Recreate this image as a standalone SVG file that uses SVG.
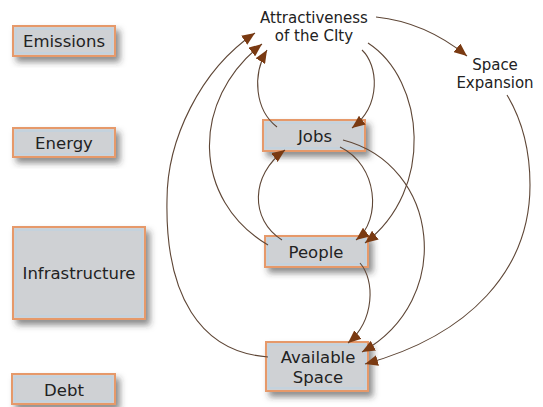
<svg xmlns="http://www.w3.org/2000/svg" width="543" height="407" viewBox="0 0 543 407">
<defs>
<style>
.box{fill:#cfd1d4;stroke:#e6996a;stroke-width:2;filter:url(#sh)}
.inner{fill:none;stroke:#b9d3e6;stroke-width:1}
.bl{font-family:"DejaVu Sans","Liberation Sans",sans-serif;font-size:16.5px;fill:#222;text-anchor:middle}
.fl{font-family:"DejaVu Sans","Liberation Sans",sans-serif;font-size:15px;fill:#222;text-anchor:middle}
.c{fill:none;stroke:#5e4636;stroke-width:1.1;marker-end:url(#ah)}
</style>
<filter id="sh" x="-20%" y="-20%" width="150%" height="160%">
<feDropShadow dx="4" dy="5" stdDeviation="3" flood-color="#333" flood-opacity="0.55"/>
</filter>
<marker id="ah" markerUnits="userSpaceOnUse" markerWidth="14" markerHeight="11" refX="13" refY="5.5" orient="auto">
<path d="M0,0 L13,5.5 L0,11 z" fill="#7a3a12"/>
</marker>
</defs>
<rect width="543" height="407" fill="#ffffff"/>

<g id="emissions"><rect class="box" x="13" y="26" width="102" height="30"/><rect class="inner" x="16" y="29" width="96" height="24"/><text class="bl" x="64" y="47">Emissions</text></g>
<g id="energy"><rect class="box" x="13" y="128" width="102" height="29"/><rect class="inner" x="16" y="131" width="96" height="23"/><text class="bl" x="64" y="149">Energy</text></g>
<g id="infrastructure"><rect class="box" x="13" y="227" width="132" height="92"/><rect class="inner" x="16" y="230" width="126" height="86"/><text class="bl" x="79" y="279">Infrastructure</text></g>
<g id="debt"><rect class="box" x="12" y="374" width="103" height="30"/><rect class="inner" x="15" y="377" width="97" height="24"/><text class="bl" x="64" y="396">Debt</text></g>

<g id="attractiveness"><text class="fl" x="314" y="23">Attractiveness<tspan x="314" dy="18">of the CIty</tspan></text></g>
<g id="space-expansion"><text class="fl" x="495" y="70">Space<tspan x="495" dy="18">Expansion</tspan></text></g>
<g id="jobs"><rect class="box" x="263" y="120" width="102" height="31"/><rect class="inner" x="266" y="123" width="96" height="25"/><text class="bl" x="315" y="142">Jobs</text></g>
<g id="people"><rect class="box" x="265" y="236" width="103" height="31"/><rect class="inner" x="268" y="239" width="97" height="25"/><text class="bl" x="316" y="258">People</text></g>
<g id="available-space"><rect class="box" x="266" y="342" width="102" height="49"/><rect class="inner" x="269" y="345" width="96" height="43"/><text class="bl" x="318" y="363">Available<tspan x="318" dy="20">Space</tspan></text></g>

<g id="connectors">
<path class="c" d="M376,17 Q425,22 467,56"/>
<path class="c" d="M362,50 C378,65 382,105 352,128"/>
<path class="c" d="M277,127 C255,110 252,75 267,50"/>
<path class="c" d="M368,43 C425,80 435,190 365,243"/>
<path class="c" d="M268,245 C192,200 190,100 262,44"/>
<path class="c" d="M268,357 C200,352 165,295 167,200 C167,140 200,70 255,33"/>
<path class="c" d="M282,240 C250,220 250,175 285,150"/>
<path class="c" d="M340,147 C378,165 382,220 356,240"/>
<path class="c" d="M343,140 C440,165 455,300 362,352"/>
<path class="c" d="M360,263 C375,280 375,320 348,343"/>
<path class="c" d="M507,95 C522,120 530,150 530,185 C530,270 470,335 365,364"/>
</g>
</svg>
